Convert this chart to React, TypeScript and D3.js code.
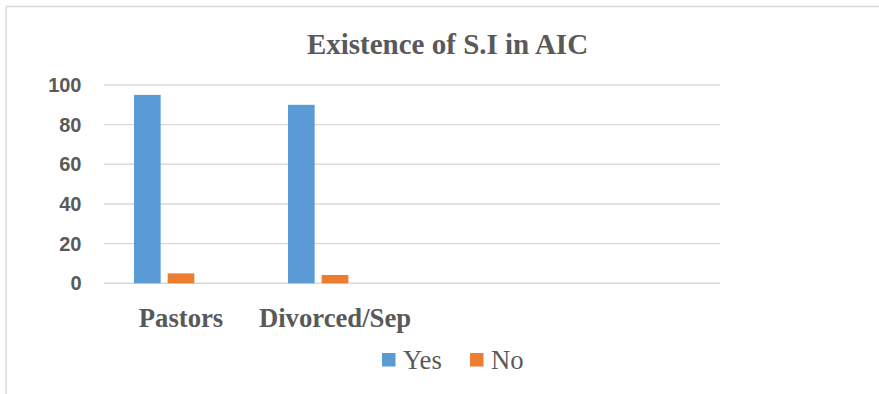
import React, { useEffect, useRef } from "react";
import * as d3 from "d3";

const categories = ["Pastors", "Divorced/Sep", "", ""];
const seriesNames = ["Yes", "No", "Series3"];
const yesValues = [95, 90, 0, 0];
const noValues = [5, 4.2, 0, 0];
const series3Values = [0, 0, 0, 0];
const legendNames = ["Yes", "No"];
const yTicks = [0, 20, 40, 60, 80, 100];
const colors = ["#5b9bd5", "#ed7d31", "#a5a5a5"];

const W = 879;
const H = 394;

export default function App() {
  const ref = useRef<SVGSVGElement>(null);

  useEffect(() => {
    const svg = d3.select(ref.current);
    svg.selectAll("*").remove();

    const left = 104, right = 720, top = 85, bottom = 283.3;
    const seriesValues = [yesValues, noValues, series3Values];

    // frame
    svg.append("rect").attr("width", W).attr("height", H).attr("fill", "#fff");
    svg.append("line").attr("x1", 6).attr("x2", W).attr("y1", 6.5).attr("y2", 6.5)
      .attr("stroke", "#d9d9d9").attr("stroke-width", 1.5);
    svg.append("line").attr("x1", 6).attr("x2", 6).attr("y1", 6.5).attr("y2", H)
      .attr("stroke", "#d9d9d9").attr("stroke-width", 1.5);

    const y = d3.scaleLinear().domain([0, 100]).range([bottom, top]);
    const x0 = d3.scaleBand().domain(categories.map((c, i) => String(i))).range([left, right]).padding(0);
    const x1 = d3.scaleBand().domain(seriesNames).range([0, x0.bandwidth()])
      .paddingInner(0.208).paddingOuter(0.89);

    // grid
    svg.append("g").selectAll("line").data(yTicks).join("line")
      .attr("x1", left).attr("x2", right)
      .attr("y1", (d) => y(d)).attr("y2", (d) => y(d))
      .attr("stroke", "#d9d9d9").attr("stroke-width", 1.4);

    // y labels
    svg.append("g").selectAll("text").data(yTicks).join("text")
      .attr("x", 81.5).attr("y", (d) => y(d) + 7)
      .attr("text-anchor", "end")
      .attr("font-family", "'Liberation Sans', Arial, sans-serif")
      .attr("font-weight", "bold").attr("font-size", 20)
      .attr("fill", "#595959")
      .text((d) => String(d));

    // bars
    seriesNames.forEach((s, si) => {
      svg.append("g").selectAll("rect").data(seriesValues[si]).join("rect")
        .attr("x", (_d, i) => (x0(String(i)) as number) + (x1(s) as number))
        .attr("width", x1.bandwidth())
        .attr("y", (d) => y(d))
        .attr("height", (d) => y(0) - y(d))
        .attr("fill", colors[si]);
    });

    // category labels
    svg.append("g").selectAll("text").data(categories).join("text")
      .attr("x", (_d, i) => (x0(String(i)) as number) + x0.bandwidth() / 2)
      .attr("y", 326.7)
      .attr("text-anchor", "middle")
      .attr("font-family", "'Liberation Serif', 'Times New Roman', serif")
      .attr("font-weight", "bold").attr("font-size", 26.7)
      .attr("fill", "#595959")
      .text((d) => d);

    // title
    svg.append("text").attr("x", 447.5).attr("y", 54.3)
      .attr("text-anchor", "middle")
      .attr("font-family", "'Liberation Serif', 'Times New Roman', serif")
      .attr("font-weight", "bold").attr("font-size", 29)
      .attr("fill", "#595959")
      .text("Existence of S.I in AIC");

    // legend
    const legendX = [382, 470];
    const lg = svg.append("g").selectAll("g").data(legendNames).join("g")
      .attr("transform", (_d, i) => `translate(${legendX[i]},0)`);
    lg.append("rect").attr("x", 0).attr("y", 353).attr("width", 13.5).attr("height", 13.5)
      .attr("fill", (_d, i) => colors[i]);
    lg.append("text").attr("x", 21).attr("y", 369)
      .attr("font-family", "'Liberation Serif', 'Times New Roman', serif")
      .attr("font-size", 26.7).attr("fill", "#595959")
      .text((d) => d);
  }, []);

  return (
    <svg ref={ref} width={W} height={H}
      style={{ position: "absolute", left: 0, top: 0, display: "block" }} />
  );
}
